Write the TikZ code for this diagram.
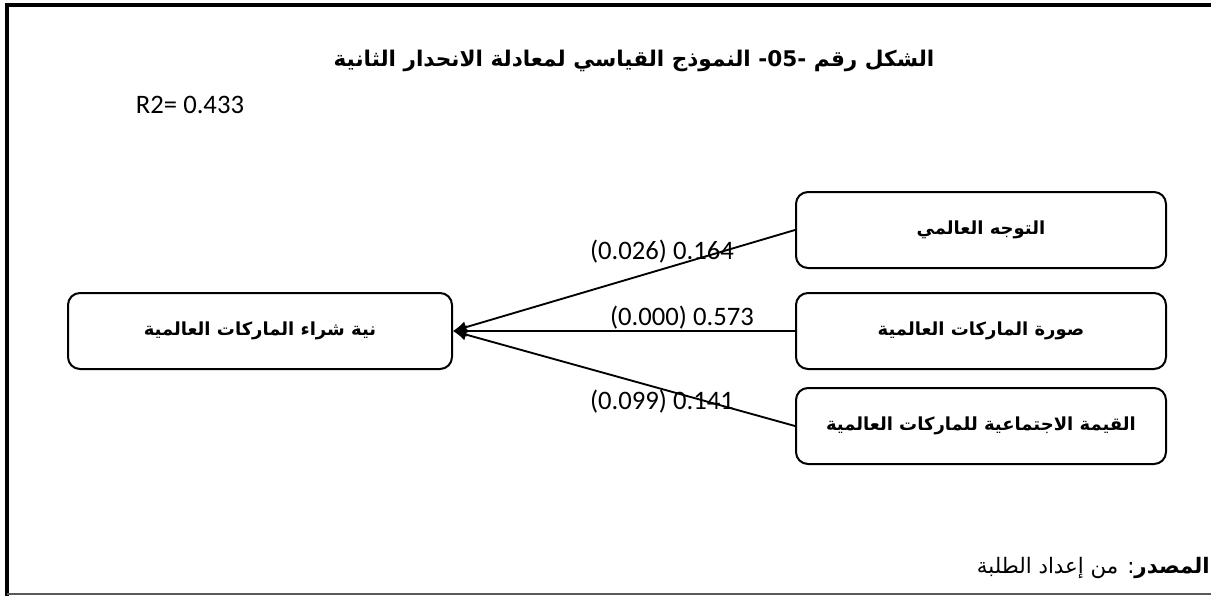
\documentclass[tikz,border=0pt]{standalone}
\usepackage{fontspec}
\setmainfont{Carlito}
\newfontfamily\arabicfont[Script=Arabic]{DejaVu Sans}
\TeXXeTstate=1
\usetikzlibrary{shapes,arrows,arrows.meta,positioning}

\begin{document}
\begin{tikzpicture}[x=0.75pt, y=-0.75pt, node distance=73.5pt, auto]
        \tikzstyle{block} = [rectangle, draw, line width=1.5pt, rounded corners=9pt, text centered, minimum height=57pt, minimum width=277.5pt, font=\arabicfont\bfseries\fontsize{13.5}{16}\selectfont]
        \tikzstyle{line} = [draw, line width=1.4pt, -{Latex[length=10pt, width=9pt]}]
        \tikzstyle{coef} = [font=\fontsize{20}{24}\selectfont, inner sep=0pt]

        \useasboundingbox (0,0) rectangle (1211,596);
        \draw [line width=2.5pt] (7,596) -- (7,5) -- (1211,5);
        \draw [gray!70!black, line width=0.8pt] (7,594) -- (1211,594);

        \node (title) at (634,61) {\arabicfont\bfseries\fontsize{16.2}{20}\selectfont\beginR الشكل رقم \beginL-05-\endL{} النموذج القياسي لمعادلة الانحدار الثانية\endR};
        \node [coef] (rsq) at (190,105) {R2= 0.433};

        \node [block, minimum width=288pt] (intention) at (260,331) {\beginR نية شراء الماركات العالمية\endR};
        \node [block] (image) at (981,331) {\beginR صورة الماركات العالمية\endR};
        \node [block, above of=image, node distance=75.75pt] (orient) {\beginR التوجه العالمي\endR};
        \node [block, below of=image, node distance=71.25pt] (social) {\beginR القيمة الاجتماعية للماركات العالمية\endR};

        \node [coef] (w1) at (662,252) {(0.026) 0.164};
        \node [coef] (w2) at (682,318) {(0.000) 0.573};
        \node [coef] (w3) at (662,402) {(0.099) 0.141};

        \path [line] (orient.west) -- (intention.east);
        \path [line] (image.west) -- (intention.east);
        \path [line] (social.west) -- (intention.east);

        \node [anchor=east, inner sep=0pt] (source) at (1210,568) {\arabicfont\fontsize{16}{19}\selectfont\beginR{\bfseries المصدر}: من إعداد الطلبة\endR};
    \end{tikzpicture}
\end{document}
